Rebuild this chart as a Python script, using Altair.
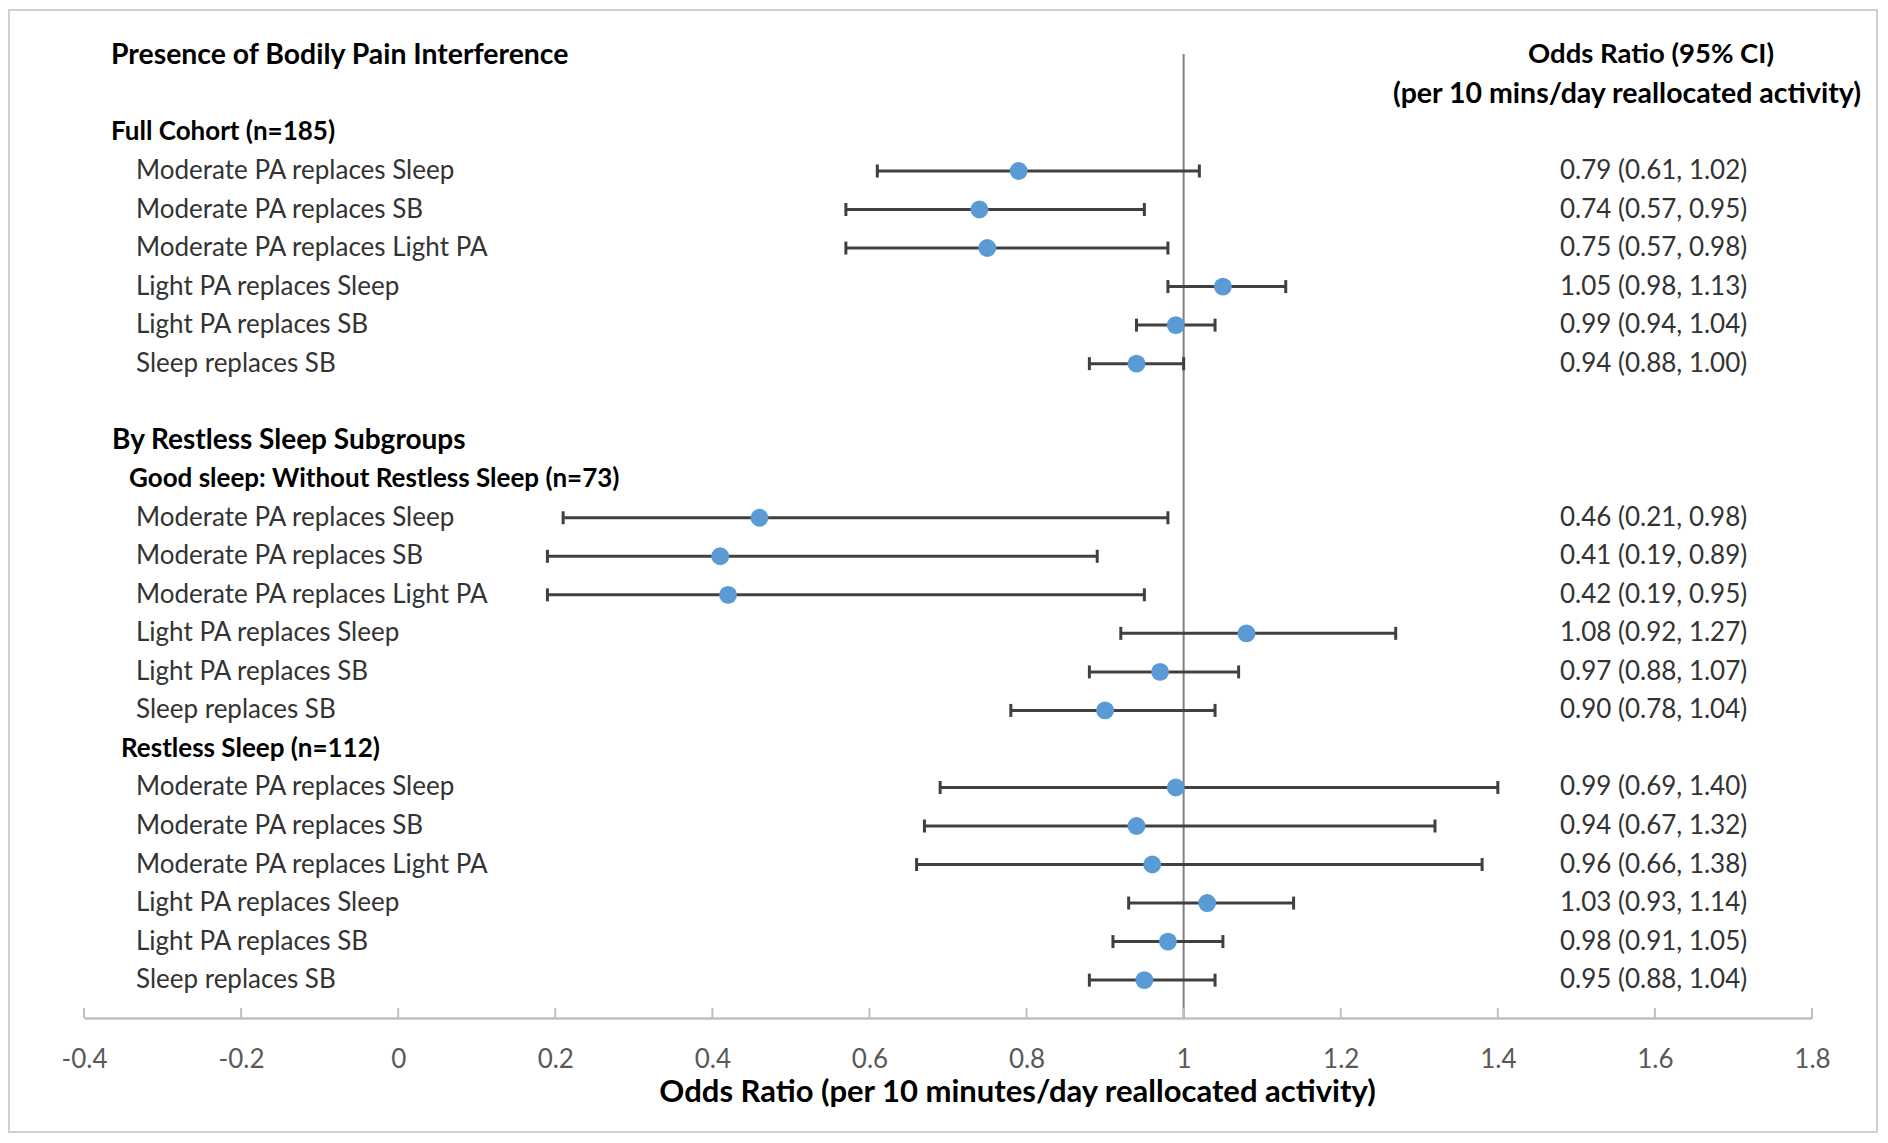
import altair as alt
import pandas as pd

# ---------------- data ----------------
row_labels = [
    "Moderate PA replaces Sleep",
    "Moderate PA replaces SB",
    "Moderate PA replaces Light PA",
    "Light PA replaces Sleep",
    "Light PA replaces SB",
    "Sleep replaces SB",
]
full_or = [0.79, 0.74, 0.75, 1.05, 0.99, 0.94]
full_lo = [0.61, 0.57, 0.57, 0.98, 0.94, 0.88]
full_hi = [1.02, 0.95, 0.98, 1.13, 1.04, 1.00]

good_or = [0.46, 0.41, 0.42, 1.08, 0.97, 0.90]
good_lo = [0.21, 0.19, 0.19, 0.92, 0.88, 0.78]
good_hi = [0.98, 0.89, 0.95, 1.27, 1.07, 1.04]

restless_or = [0.99, 0.94, 0.96, 1.03, 0.98, 0.95]
restless_lo = [0.69, 0.67, 0.66, 0.93, 0.91, 0.88]
restless_hi = [1.40, 1.32, 1.38, 1.14, 1.05, 1.04]

x_ticks = [-0.4, -0.2, 0, 0.2, 0.4, 0.6, 0.8, 1.0, 1.2, 1.4, 1.6, 1.8]
ref_value = [1.0]

chart_title = "Presence of Bodily Pain Interference"
header_full = "Full Cohort (n=185)"
header_by = "By Restless Sleep Subgroups"
header_good = "Good sleep: Without Restless Sleep (n=73)"
header_restless = "Restless Sleep (n=112)"
col_head_1 = "Odds Ratio (95% CI)"
col_head_2 = "(per 10 mins/day reallocated activity)"
x_title = "Odds Ratio (per 10 minutes/day reallocated activity)"

# row slots (line index from the top)
full_rows = [3, 4, 5, 6, 7, 8]
good_rows = [12, 13, 14, 15, 16, 17]
restless_rows = [19, 20, 21, 22, 23, 24]

# ---------------- table ----------------
records = []
for rows, o, l, h in [
    (full_rows, full_or, full_lo, full_hi),
    (good_rows, good_or, good_lo, good_hi),
    (restless_rows, restless_or, restless_lo, restless_hi),
]:
    for r, lab, a, b, c in zip(rows, row_labels, o, l, h):
        records.append({
            "row": r, "label": lab, "or": a, "lo": b, "hi": c,
            "ci": f"{a:.2f} ({b:.2f}, {c:.2f})",
        })
df = pd.DataFrame(records)

# ---------------- layout ----------------
W, H = 1728, 998
ROW_PX = 38.53
TOP_PX = 35.4
d0 = -TOP_PX / ROW_PX
d1 = d0 + H / ROW_PX
FONT = "Lato"
BAR_COLOR = "#404040"

yscale = alt.Scale(domain=[d0, d1], reverse=True, nice=False, zero=False)
xscale = alt.Scale(domain=[-0.4, 1.8], nice=False, zero=False)

xaxis = alt.Axis(
    values=x_ticks,
    ticks=False,
    tickSize=0,
    grid=False,
    domainColor="#BFBFBF",
    domainWidth=2.5,
    labelColor="#595959",
    labelFont=FONT,
    labelFontSize=26,
    labelBaseline="middle",
    labelPadding=41,
    labelFlush=False,
    labelOverlap=False,
    labelExpr="'' + round(datum.value * 10) / 10",
    title=x_title,
    titleFont=FONT,
    titleFontSize=31,
    titleFontWeight="bold",
    titleColor="#000000",
    titleBaseline="middle",
    titleAlign="center",
    titleX=933,
    titleY=74,
)


def X(field):
    return alt.X(field, scale=xscale, axis=xaxis)


def Y():
    return alt.Y("row:Q", scale=yscale, axis=None)


base = alt.Chart(df)

# error bars
bars = base.mark_rule(color=BAR_COLOR, strokeWidth=3).encode(
    x=X("lo:Q"), x2="hi:Q", y=Y()
)
cap_lo = base.mark_tick(color=BAR_COLOR, orient="vertical", size=13, thickness=3, opacity=1).encode(
    x=X("lo:Q"), y=Y()
)
cap_hi = base.mark_tick(color=BAR_COLOR, orient="vertical", size=13, thickness=3, opacity=1).encode(
    x=X("hi:Q"), y=Y()
)

points = base.mark_circle(size=320, color="#5B9BD5", opacity=1).encode(
    x=X("or:Q"), y=Y()
)

# reference line at OR = 1
ref = alt.Chart(pd.DataFrame({"v": ref_value})).mark_rule(color="#808080", strokeWidth=2).encode(
    x=X("v:Q"), y=alt.value(34), y2=alt.value(H)
)

# upward tick marks on the axis
ticks = alt.Chart(pd.DataFrame({"t": x_ticks})).mark_rule(color="#BFBFBF", strokeWidth=2).encode(
    x=X("t:Q"), y=alt.value(H - 10), y2=alt.value(H)
)

# row labels and CI text
labels = base.mark_text(align="left", baseline="middle", font=FONT, fontSize=26, color="#333333").encode(
    x=alt.value(52), y=Y(), text="label:N"
)
values = base.mark_text(align="left", baseline="middle", font=FONT, fontSize=26, color="#333333").encode(
    x=alt.value(1476), y=Y(), text="ci:N"
)


def header(txt, row, xpx, size, align="left"):
    return alt.Chart(pd.DataFrame({"t": [txt], "row": [row]})).mark_text(
        align=align, baseline="middle", font=FONT, fontSize=size, fontWeight="bold", color="#000000"
    ).encode(x=alt.value(xpx), y=Y(), text="t:N")


headers = [
    header(chart_title, 0, 27, 28.4),
    header(header_full, 2, 27, 26),
    header(header_by, 10, 28, 28),
    header(header_good, 11, 45, 26),
    header(header_restless, 18, 37, 26),
    header(col_head_1, 0, 1567, 27.5, "center"),
    header(col_head_2, 1, 1543, 28.5, "center"),
]

# chart-area border
border = alt.Chart(pd.DataFrame({"a": [0]})).mark_rect(
    fillOpacity=0, stroke="#D0D0D0", strokeWidth=2
).encode(x=alt.value(-75), x2=alt.value(1793), y=alt.value(-10), y2=alt.value(1112))

chart = alt.layer(
    border, ref, ticks, bars, cap_lo, cap_hi, points, labels, values, *headers
).properties(
    width=W,
    height=H,
    padding={"left": 76, "top": 12, "right": 66, "bottom": 115},
    autosize=alt.AutoSizeParams(type="none"),
    background="#FFFFFF",
).configure_view(stroke=None)

chart.save("out.html", embed_options={"renderer": "svg", "actions": False})
